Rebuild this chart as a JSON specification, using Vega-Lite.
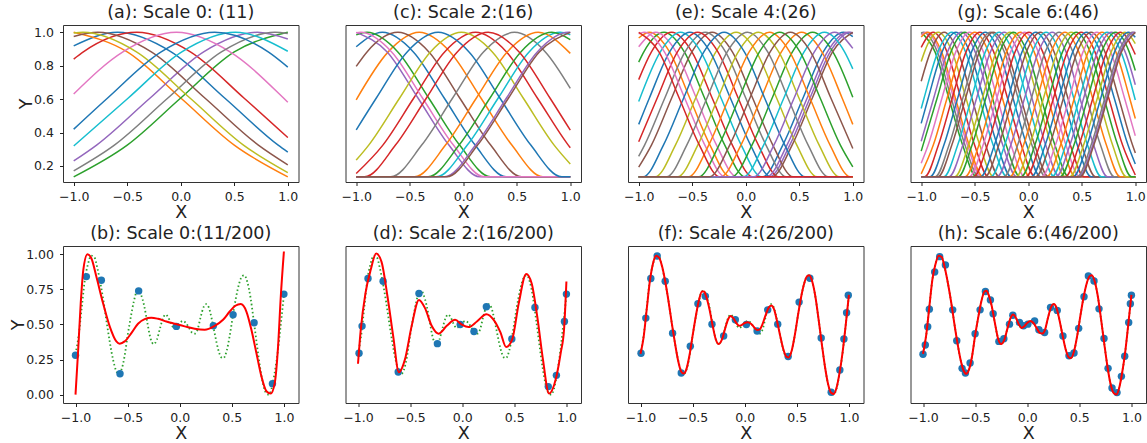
{
"$schema": "https://vega.github.io/schema/vega-lite/v6.json",
"background": "white",
"padding": {"left": 9, "top": 3, "right": 0, "bottom": 0},
"columns": 4,
"spacing": {"row": 64, "column": 46.5},
"bounds": "flush",
"config": {
 "font": "DejaVu Sans",
 "view": {"stroke": "#333333", "strokeWidth": 1},
 "title": {"fontSize": 17.5, "fontWeight": "normal", "color": "#222222", "anchor": "middle", "offset": 4, "font": "DejaVu Sans"},
 "axis": {"labelFont": "DejaVu Sans", "labelFontSize": 12.5, "labelColor": "#222222", "titleFont": "DejaVu Sans", "titleFontSize": 17.5, "titleFontWeight": "normal", "titleColor": "#222222", "tickColor": "#222222", "tickSize": 3.5, "tickWidth": 1, "domain": false, "grid": false, "labelFlush": false, "labelOverlap": false},
 "axisX": {"labelPadding": 5, "titlePadding": 0.5},
 "axisY": {"labelPadding": 6, "titlePadding": -2}
},
"datasets": {
"a": [
{"k":0,"x":-1,"y":0.919},{"k":0,"x":-0.59,"y":1},{"k":0,"x":-0.09,"y":0.883},{"k":0,"x":0.41,"y":0.607},{"k":0,"x":0.91,"y":0.325},{"k":0,"x":1,"y":0.283},
{"k":1,"x":-1,"y":1},{"k":1,"x":-0.5,"y":0.883},{"k":1,"x":0,"y":0.607},{"k":1,"x":0.5,"y":0.325},{"k":1,"x":1,"y":0.135},
{"k":2,"x":-1,"y":0.135},{"k":2,"x":-0.5,"y":0.325},{"k":2,"x":0,"y":0.607},{"k":2,"x":0.5,"y":0.883},{"k":2,"x":1,"y":1},
{"k":3,"x":-1,"y":0.84},{"k":3,"x":-0.91,"y":0.883},{"k":3,"x":-0.41,"y":1},{"k":3,"x":0.09,"y":0.883},{"k":3,"x":0.59,"y":0.607},{"k":3,"x":1,"y":0.37},
{"k":4,"x":-1,"y":0.23},{"k":4,"x":-0.786,"y":0.325},{"k":4,"x":-0.286,"y":0.607},{"k":4,"x":0.214,"y":0.883},{"k":4,"x":0.714,"y":1},{"k":4,"x":1,"y":0.96},
{"k":5,"x":-1,"y":0.975},{"k":5,"x":-0.775,"y":1},{"k":5,"x":-0.275,"y":0.883},{"k":5,"x":0.225,"y":0.607},{"k":5,"x":0.725,"y":0.325},{"k":5,"x":1,"y":0.207},
{"k":6,"x":-1,"y":0.631},{"k":6,"x":-0.54,"y":0.883},{"k":6,"x":-0.04,"y":1},{"k":6,"x":0.46,"y":0.883},{"k":6,"x":0.96,"y":0.607},{"k":6,"x":1,"y":0.582},
{"k":7,"x":-1,"y":0.171},{"k":7,"x":-0.62,"y":0.325},{"k":7,"x":-0.12,"y":0.607},{"k":7,"x":0.38,"y":0.883},{"k":7,"x":0.88,"y":1},{"k":7,"x":1,"y":0.993},
{"k":8,"x":-1,"y":0.996},{"k":8,"x":-0.914,"y":1},{"k":8,"x":-0.414,"y":0.883},{"k":8,"x":0.086,"y":0.607},{"k":8,"x":0.586,"y":0.325},{"k":8,"x":1,"y":0.16},
{"k":9,"x":-1,"y":0.32},{"k":9,"x":-0.49,"y":0.607},{"k":9,"x":0.01,"y":0.883},{"k":9,"x":0.51,"y":1},{"k":9,"x":1,"y":0.887},
{"k":10,"x":-1,"y":0.42},{"k":10,"x":-0.683,"y":0.607},{"k":10,"x":-0.183,"y":0.883},{"k":10,"x":0.317,"y":1},{"k":10,"x":0.817,"y":0.883},{"k":10,"x":1,"y":0.792}
],
"c": [
{"k":0,"x":-1,"y":0.914},{"k":0,"x":-0.755,"y":1},{"k":0,"x":-0.466,"y":0.883},{"k":0,"x":-0.178,"y":0.607},{"k":0,"x":0.111,"y":0.325},{"k":0,"x":0.4,"y":0.135},{"k":0,"x":1,"y":0.135},
{"k":1,"x":-1,"y":0.596},{"k":1,"x":-0.701,"y":0.883},{"k":1,"x":-0.412,"y":1},{"k":1,"x":-0.123,"y":0.883},{"k":1,"x":0.165,"y":0.607},{"k":1,"x":0.454,"y":0.325},{"k":1,"x":0.743,"y":0.135},{"k":1,"x":1,"y":0.135},
{"k":2,"x":-1,"y":0.985},{"k":2,"x":-0.9,"y":1},{"k":2,"x":-0.611,"y":0.883},{"k":2,"x":-0.323,"y":0.607},{"k":2,"x":-0.034,"y":0.325},{"k":2,"x":0.255,"y":0.135},{"k":2,"x":1,"y":0.135},
{"k":3,"x":-1,"y":0.155},{"k":3,"x":-0.751,"y":0.325},{"k":3,"x":-0.462,"y":0.607},{"k":3,"x":-0.174,"y":0.883},{"k":3,"x":0.115,"y":1},{"k":3,"x":0.404,"y":0.883},{"k":3,"x":0.692,"y":0.607},{"k":3,"x":0.981,"y":0.325},{"k":3,"x":1,"y":0.309},
{"k":4,"x":-1,"y":1},{"k":4,"x":-0.711,"y":0.883},{"k":4,"x":-0.423,"y":0.607},{"k":4,"x":-0.134,"y":0.325},{"k":4,"x":0.155,"y":0.135},{"k":4,"x":1,"y":0.135},
{"k":5,"x":-1,"y":0.796},{"k":5,"x":-0.899,"y":0.883},{"k":5,"x":-0.61,"y":1},{"k":5,"x":-0.321,"y":0.883},{"k":5,"x":-0.033,"y":0.607},{"k":5,"x":0.256,"y":0.325},{"k":5,"x":0.545,"y":0.135},{"k":5,"x":1,"y":0.135},
{"k":6,"x":-1,"y":0.997},{"k":6,"x":-0.958,"y":1},{"k":6,"x":-0.669,"y":0.883},{"k":6,"x":-0.381,"y":0.607},{"k":6,"x":-0.092,"y":0.325},{"k":6,"x":0.197,"y":0.135},{"k":6,"x":1,"y":0.135},
{"k":7,"x":-1,"y":0.135},{"k":7,"x":-0.677,"y":0.135},{"k":7,"x":-0.388,"y":0.325},{"k":7,"x":-0.099,"y":0.607},{"k":7,"x":0.189,"y":0.883},{"k":7,"x":0.478,"y":1},{"k":7,"x":0.767,"y":0.883},{"k":7,"x":1,"y":0.665},
{"k":8,"x":-1,"y":0.235},{"k":8,"x":-0.883,"y":0.325},{"k":8,"x":-0.594,"y":0.607},{"k":8,"x":-0.306,"y":0.883},{"k":8,"x":-0.017,"y":1},{"k":8,"x":0.272,"y":0.883},{"k":8,"x":0.56,"y":0.607},{"k":8,"x":0.849,"y":0.325},{"k":8,"x":1,"y":0.212},
{"k":9,"x":-1,"y":0.135},{"k":9,"x":-0.251,"y":0.135},{"k":9,"x":0.038,"y":0.325},{"k":9,"x":0.327,"y":0.607},{"k":9,"x":0.615,"y":0.883},{"k":9,"x":0.904,"y":1},{"k":9,"x":1,"y":0.986},
{"k":10,"x":-1,"y":0.416},{"k":10,"x":-0.812,"y":0.607},{"k":10,"x":-0.524,"y":0.883},{"k":10,"x":-0.235,"y":1},{"k":10,"x":0.054,"y":0.883},{"k":10,"x":0.342,"y":0.607},{"k":10,"x":0.631,"y":0.325},{"k":10,"x":0.92,"y":0.135},{"k":10,"x":1,"y":0.135},
{"k":11,"x":-1,"y":0.135},{"k":11,"x":-0.455,"y":0.135},{"k":11,"x":-0.166,"y":0.325},{"k":11,"x":0.123,"y":0.607},{"k":11,"x":0.411,"y":0.883},{"k":11,"x":0.7,"y":1},{"k":11,"x":1,"y":0.874},
{"k":12,"x":-1,"y":0.135},{"k":12,"x":-0.328,"y":0.135},{"k":12,"x":-0.039,"y":0.325},{"k":12,"x":0.25,"y":0.607},{"k":12,"x":0.538,"y":0.883},{"k":12,"x":0.827,"y":1},{"k":12,"x":1,"y":0.956},
{"k":13,"x":-1,"y":0.135},{"k":13,"x":-0.922,"y":0.135},{"k":13,"x":-0.633,"y":0.325},{"k":13,"x":-0.344,"y":0.607},{"k":13,"x":-0.056,"y":0.883},{"k":13,"x":0.233,"y":1},{"k":13,"x":0.522,"y":0.883},{"k":13,"x":0.81,"y":0.607},{"k":13,"x":1,"y":0.414},
{"k":14,"x":-1,"y":0.135},{"k":14,"x":-0.174,"y":0.135},{"k":14,"x":0.115,"y":0.325},{"k":14,"x":0.404,"y":0.607},{"k":14,"x":0.692,"y":0.883},{"k":14,"x":0.981,"y":1},{"k":14,"x":1,"y":1},
{"k":15,"x":-1,"y":0.135},{"k":15,"x":-0.155,"y":0.135},{"k":15,"x":0.134,"y":0.325},{"k":15,"x":0.423,"y":0.607},{"k":15,"x":0.711,"y":0.883},{"k":15,"x":1,"y":1}
],
"e": [
{"k":0,"x":-1,"y":0.135},{"k":0,"x":0.157,"y":0.135},{"k":0,"x":0.346,"y":0.325},{"k":0,"x":0.535,"y":0.607},{"k":0,"x":0.724,"y":0.883},{"k":0,"x":0.913,"y":1},{"k":0,"x":1,"y":0.974},
{"k":1,"x":-1,"y":0.966},{"k":1,"x":-0.901,"y":1},{"k":1,"x":-0.712,"y":0.883},{"k":1,"x":-0.523,"y":0.607},{"k":1,"x":-0.334,"y":0.325},{"k":1,"x":-0.145,"y":0.135},{"k":1,"x":1,"y":0.135},
{"k":2,"x":-1,"y":0.822},{"k":2,"x":-0.952,"y":0.883},{"k":2,"x":-0.763,"y":1},{"k":2,"x":-0.574,"y":0.883},{"k":2,"x":-0.385,"y":0.607},{"k":2,"x":-0.196,"y":0.325},{"k":2,"x":-0.007,"y":0.135},{"k":2,"x":1,"y":0.135},
{"k":3,"x":-1,"y":0.717},{"k":3,"x":-0.881,"y":0.883},{"k":3,"x":-0.692,"y":1},{"k":3,"x":-0.503,"y":0.883},{"k":3,"x":-0.314,"y":0.607},{"k":3,"x":-0.125,"y":0.325},{"k":3,"x":0.064,"y":0.135},{"k":3,"x":1,"y":0.135},
{"k":4,"x":-1,"y":0.135},{"k":4,"x":0.222,"y":0.135},{"k":4,"x":0.411,"y":0.325},{"k":4,"x":0.6,"y":0.607},{"k":4,"x":0.789,"y":0.883},{"k":4,"x":0.978,"y":1},{"k":4,"x":1,"y":0.998},
{"k":5,"x":-1,"y":0.193},{"k":5,"x":-0.881,"y":0.325},{"k":5,"x":-0.692,"y":0.607},{"k":5,"x":-0.503,"y":0.883},{"k":5,"x":-0.314,"y":1},{"k":5,"x":-0.125,"y":0.883},{"k":5,"x":0.064,"y":0.607},{"k":5,"x":0.253,"y":0.325},{"k":5,"x":0.442,"y":0.135},{"k":5,"x":1,"y":0.135},
{"k":6,"x":-1,"y":0.914},{"k":6,"x":-0.84,"y":1},{"k":6,"x":-0.651,"y":0.883},{"k":6,"x":-0.462,"y":0.607},{"k":6,"x":-0.273,"y":0.325},{"k":6,"x":-0.084,"y":0.135},{"k":6,"x":1,"y":0.135},
{"k":7,"x":-1,"y":0.258},{"k":7,"x":-0.945,"y":0.325},{"k":7,"x":-0.756,"y":0.607},{"k":7,"x":-0.567,"y":0.883},{"k":7,"x":-0.378,"y":1},{"k":7,"x":-0.189,"y":0.883},{"k":7,"x":0,"y":0.607},{"k":7,"x":0.189,"y":0.325},{"k":7,"x":0.378,"y":0.135},{"k":7,"x":1,"y":0.135},
{"k":8,"x":-1,"y":0.135},{"k":8,"x":-0.846,"y":0.135},{"k":8,"x":-0.657,"y":0.325},{"k":8,"x":-0.468,"y":0.607},{"k":8,"x":-0.279,"y":0.883},{"k":8,"x":-0.09,"y":1},{"k":8,"x":0.099,"y":0.883},{"k":8,"x":0.288,"y":0.607},{"k":8,"x":0.477,"y":0.325},{"k":8,"x":0.666,"y":0.135},{"k":8,"x":1,"y":0.135},
{"k":9,"x":-1,"y":0.586},{"k":9,"x":-0.798,"y":0.883},{"k":9,"x":-0.609,"y":1},{"k":9,"x":-0.42,"y":0.883},{"k":9,"x":-0.231,"y":0.607},{"k":9,"x":-0.042,"y":0.325},{"k":9,"x":0.147,"y":0.135},{"k":9,"x":1,"y":0.135},
{"k":10,"x":-1,"y":0.449},{"k":10,"x":-0.9,"y":0.607},{"k":10,"x":-0.711,"y":0.883},{"k":10,"x":-0.522,"y":1},{"k":10,"x":-0.333,"y":0.883},{"k":10,"x":-0.144,"y":0.607},{"k":10,"x":0.045,"y":0.325},{"k":10,"x":0.234,"y":0.135},{"k":10,"x":1,"y":0.135},
{"k":11,"x":-1,"y":0.135},{"k":11,"x":-0.234,"y":0.135},{"k":11,"x":-0.045,"y":0.325},{"k":11,"x":0.144,"y":0.607},{"k":11,"x":0.333,"y":0.883},{"k":11,"x":0.522,"y":1},{"k":11,"x":0.711,"y":0.883},{"k":11,"x":0.9,"y":0.607},{"k":11,"x":1,"y":0.449},
{"k":12,"x":-1,"y":0.135},{"k":12,"x":-0.131,"y":0.135},{"k":12,"x":0.058,"y":0.325},{"k":12,"x":0.247,"y":0.607},{"k":12,"x":0.436,"y":0.883},{"k":12,"x":0.625,"y":1},{"k":12,"x":0.814,"y":0.883},{"k":12,"x":1,"y":0.611},
{"k":13,"x":-1,"y":0.345},{"k":13,"x":-0.827,"y":0.607},{"k":13,"x":-0.638,"y":0.883},{"k":13,"x":-0.449,"y":1},{"k":13,"x":-0.26,"y":0.883},{"k":13,"x":-0.071,"y":0.607},{"k":13,"x":0.118,"y":0.325},{"k":13,"x":0.307,"y":0.135},{"k":13,"x":1,"y":0.135},
{"k":14,"x":-1,"y":0.135},{"k":14,"x":0.196,"y":0.135},{"k":14,"x":0.385,"y":0.325},{"k":14,"x":0.574,"y":0.607},{"k":14,"x":0.763,"y":0.883},{"k":14,"x":0.952,"y":1},{"k":14,"x":1,"y":0.992},
{"k":15,"x":-1,"y":0.135},{"k":15,"x":0.244,"y":0.135},{"k":15,"x":0.433,"y":0.325},{"k":15,"x":0.622,"y":0.607},{"k":15,"x":0.811,"y":0.883},{"k":15,"x":1,"y":1},
{"k":16,"x":-1,"y":0.991},{"k":16,"x":-0.949,"y":1},{"k":16,"x":-0.76,"y":0.883},{"k":16,"x":-0.571,"y":0.607},{"k":16,"x":-0.382,"y":0.325},{"k":16,"x":-0.193,"y":0.135},{"k":16,"x":1,"y":0.135},
{"k":17,"x":-1,"y":0.135},{"k":17,"x":-0.74,"y":0.135},{"k":17,"x":-0.551,"y":0.325},{"k":17,"x":-0.362,"y":0.607},{"k":17,"x":-0.173,"y":0.883},{"k":17,"x":0.016,"y":1},{"k":17,"x":0.205,"y":0.883},{"k":17,"x":0.394,"y":0.607},{"k":17,"x":0.583,"y":0.325},{"k":17,"x":0.772,"y":0.135},{"k":17,"x":1,"y":0.135},
{"k":18,"x":-1,"y":0.135},{"k":18,"x":-0.637,"y":0.135},{"k":18,"x":-0.448,"y":0.325},{"k":18,"x":-0.259,"y":0.607},{"k":18,"x":-0.07,"y":0.883},{"k":18,"x":0.119,"y":1},{"k":18,"x":0.308,"y":0.883},{"k":18,"x":0.497,"y":0.607},{"k":18,"x":0.686,"y":0.325},{"k":18,"x":0.875,"y":0.135},{"k":18,"x":1,"y":0.135},
{"k":19,"x":-1,"y":0.135},{"k":19,"x":-0.022,"y":0.135},{"k":19,"x":0.167,"y":0.325},{"k":19,"x":0.356,"y":0.607},{"k":19,"x":0.545,"y":0.883},{"k":19,"x":0.734,"y":1},{"k":19,"x":0.923,"y":0.883},{"k":19,"x":1,"y":0.781},
{"k":20,"x":-1,"y":0.135},{"k":20,"x":-0.958,"y":0.135},{"k":20,"x":-0.769,"y":0.325},{"k":20,"x":-0.58,"y":0.607},{"k":20,"x":-0.391,"y":0.883},{"k":20,"x":-0.202,"y":1},{"k":20,"x":-0.013,"y":0.883},{"k":20,"x":0.176,"y":0.607},{"k":20,"x":0.365,"y":0.325},{"k":20,"x":0.554,"y":0.135},{"k":20,"x":1,"y":0.135},
{"k":21,"x":-1,"y":0.135},{"k":21,"x":-0.535,"y":0.135},{"k":21,"x":-0.346,"y":0.325},{"k":21,"x":-0.157,"y":0.607},{"k":21,"x":0.032,"y":0.883},{"k":21,"x":0.221,"y":1},{"k":21,"x":0.41,"y":0.883},{"k":21,"x":0.599,"y":0.607},{"k":21,"x":0.788,"y":0.325},{"k":21,"x":0.977,"y":0.135},{"k":21,"x":1,"y":0.135},
{"k":22,"x":-1,"y":0.135},{"k":22,"x":-0.439,"y":0.135},{"k":22,"x":-0.25,"y":0.325},{"k":22,"x":-0.061,"y":0.607},{"k":22,"x":0.128,"y":0.883},{"k":22,"x":0.317,"y":1},{"k":22,"x":0.506,"y":0.883},{"k":22,"x":0.695,"y":0.607},{"k":22,"x":0.884,"y":0.325},{"k":22,"x":1,"y":0.195},
{"k":23,"x":-1,"y":1},{"k":23,"x":-0.811,"y":0.883},{"k":23,"x":-0.622,"y":0.607},{"k":23,"x":-0.433,"y":0.325},{"k":23,"x":-0.244,"y":0.135},{"k":23,"x":1,"y":0.135},
{"k":24,"x":-1,"y":0.135},{"k":24,"x":0.074,"y":0.135},{"k":24,"x":0.263,"y":0.325},{"k":24,"x":0.452,"y":0.607},{"k":24,"x":0.641,"y":0.883},{"k":24,"x":0.83,"y":1},{"k":24,"x":1,"y":0.904},
{"k":25,"x":-1,"y":0.135},{"k":25,"x":-0.339,"y":0.135},{"k":25,"x":-0.15,"y":0.325},{"k":25,"x":0.039,"y":0.607},{"k":25,"x":0.228,"y":0.883},{"k":25,"x":0.417,"y":1},{"k":25,"x":0.606,"y":0.883},{"k":25,"x":0.795,"y":0.607},{"k":25,"x":1,"y":0.305}
],
"g": [
{"k":2,"x":-1,"y":1},{"k":2,"x":-0.871,"y":0.883},{"k":2,"x":-0.742,"y":0.607},{"k":2,"x":-0.613,"y":0.325},{"k":2,"x":-0.484,"y":0.135},{"k":2,"x":1,"y":0.135},
{"k":7,"x":-1,"y":0.996},{"k":7,"x":-0.978,"y":1},{"k":7,"x":-0.849,"y":0.883},{"k":7,"x":-0.72,"y":0.607},{"k":7,"x":-0.591,"y":0.325},{"k":7,"x":-0.462,"y":0.135},{"k":7,"x":1,"y":0.135},
{"k":6,"x":-1,"y":0.985},{"k":6,"x":-0.955,"y":1},{"k":6,"x":-0.826,"y":0.883},{"k":6,"x":-0.697,"y":0.607},{"k":6,"x":-0.568,"y":0.325},{"k":6,"x":-0.439,"y":0.135},{"k":6,"x":1,"y":0.135},
{"k":1,"x":-1,"y":0.972},{"k":1,"x":-0.939,"y":1},{"k":1,"x":-0.81,"y":0.883},{"k":1,"x":-0.681,"y":0.607},{"k":1,"x":-0.552,"y":0.325},{"k":1,"x":-0.423,"y":0.135},{"k":1,"x":1,"y":0.135},
{"k":3,"x":-1,"y":0.91},{"k":3,"x":-0.888,"y":1},{"k":3,"x":-0.759,"y":0.883},{"k":3,"x":-0.63,"y":0.607},{"k":3,"x":-0.501,"y":0.325},{"k":3,"x":-0.372,"y":0.135},{"k":3,"x":1,"y":0.135},
{"k":8,"x":-1,"y":0.825},{"k":8,"x":-0.969,"y":0.883},{"k":8,"x":-0.84,"y":1},{"k":8,"x":-0.711,"y":0.883},{"k":8,"x":-0.582,"y":0.607},{"k":8,"x":-0.453,"y":0.325},{"k":8,"x":-0.324,"y":0.135},{"k":8,"x":1,"y":0.135},
{"k":5,"x":-1,"y":0.707},{"k":5,"x":-0.914,"y":0.883},{"k":5,"x":-0.785,"y":1},{"k":5,"x":-0.656,"y":0.883},{"k":5,"x":-0.527,"y":0.607},{"k":5,"x":-0.398,"y":0.325},{"k":5,"x":-0.269,"y":0.135},{"k":5,"x":1,"y":0.135},
{"k":9,"x":-1,"y":0.544},{"k":9,"x":-0.973,"y":0.607},{"k":9,"x":-0.844,"y":0.883},{"k":9,"x":-0.715,"y":1},{"k":9,"x":-0.586,"y":0.883},{"k":9,"x":-0.457,"y":0.607},{"k":9,"x":-0.328,"y":0.325},{"k":9,"x":-0.199,"y":0.135},{"k":9,"x":1,"y":0.135},
{"k":0,"x":-1,"y":0.455},{"k":0,"x":-0.934,"y":0.607},{"k":0,"x":-0.805,"y":0.883},{"k":0,"x":-0.676,"y":1},{"k":0,"x":-0.547,"y":0.883},{"k":0,"x":-0.418,"y":0.607},{"k":0,"x":-0.289,"y":0.325},{"k":0,"x":-0.16,"y":0.135},{"k":0,"x":1,"y":0.135},
{"k":4,"x":-1,"y":0.348},{"k":4,"x":-0.883,"y":0.607},{"k":4,"x":-0.754,"y":0.883},{"k":4,"x":-0.625,"y":1},{"k":4,"x":-0.496,"y":0.883},{"k":4,"x":-0.367,"y":0.607},{"k":4,"x":-0.238,"y":0.325},{"k":4,"x":-0.109,"y":0.135},{"k":4,"x":1,"y":0.135},
{"k":12,"x":-1,"y":0.289},{"k":12,"x":-0.851,"y":0.607},{"k":12,"x":-0.722,"y":0.883},{"k":12,"x":-0.593,"y":1},{"k":12,"x":-0.464,"y":0.883},{"k":12,"x":-0.335,"y":0.607},{"k":12,"x":-0.206,"y":0.325},{"k":12,"x":-0.077,"y":0.135},{"k":12,"x":1,"y":0.135},
{"k":16,"x":-1,"y":0.216},{"k":16,"x":-0.935,"y":0.325},{"k":16,"x":-0.806,"y":0.607},{"k":16,"x":-0.677,"y":0.883},{"k":16,"x":-0.548,"y":1},{"k":16,"x":-0.419,"y":0.883},{"k":16,"x":-0.29,"y":0.607},{"k":16,"x":-0.161,"y":0.325},{"k":16,"x":-0.032,"y":0.135},{"k":16,"x":1,"y":0.135},
{"k":11,"x":-1,"y":0.153},{"k":11,"x":-0.887,"y":0.325},{"k":11,"x":-0.758,"y":0.607},{"k":11,"x":-0.629,"y":0.883},{"k":11,"x":-0.5,"y":1},{"k":11,"x":-0.371,"y":0.883},{"k":11,"x":-0.242,"y":0.607},{"k":11,"x":-0.113,"y":0.325},{"k":11,"x":0.016,"y":0.135},{"k":11,"x":1,"y":0.135},
{"k":13,"x":-1,"y":0.135},{"k":13,"x":-0.968,"y":0.135},{"k":13,"x":-0.839,"y":0.325},{"k":13,"x":-0.71,"y":0.607},{"k":13,"x":-0.581,"y":0.883},{"k":13,"x":-0.452,"y":1},{"k":13,"x":-0.323,"y":0.883},{"k":13,"x":-0.194,"y":0.607},{"k":13,"x":-0.065,"y":0.325},{"k":13,"x":0.064,"y":0.135},{"k":13,"x":1,"y":0.135},
{"k":10,"x":-1,"y":0.135},{"k":10,"x":-0.917,"y":0.135},{"k":10,"x":-0.788,"y":0.325},{"k":10,"x":-0.659,"y":0.607},{"k":10,"x":-0.53,"y":0.883},{"k":10,"x":-0.401,"y":1},{"k":10,"x":-0.272,"y":0.883},{"k":10,"x":-0.143,"y":0.607},{"k":10,"x":-0.014,"y":0.325},{"k":10,"x":0.115,"y":0.135},{"k":10,"x":1,"y":0.135},
{"k":17,"x":-1,"y":0.135},{"k":17,"x":-0.869,"y":0.135},{"k":17,"x":-0.74,"y":0.325},{"k":17,"x":-0.611,"y":0.607},{"k":17,"x":-0.482,"y":0.883},{"k":17,"x":-0.353,"y":1},{"k":17,"x":-0.224,"y":0.883},{"k":17,"x":-0.095,"y":0.607},{"k":17,"x":0.034,"y":0.325},{"k":17,"x":0.163,"y":0.135},{"k":17,"x":1,"y":0.135},
{"k":15,"x":-1,"y":0.135},{"k":15,"x":-0.843,"y":0.135},{"k":15,"x":-0.714,"y":0.325},{"k":15,"x":-0.585,"y":0.607},{"k":15,"x":-0.456,"y":0.883},{"k":15,"x":-0.327,"y":1},{"k":15,"x":-0.198,"y":0.883},{"k":15,"x":-0.069,"y":0.607},{"k":15,"x":0.06,"y":0.325},{"k":15,"x":0.189,"y":0.135},{"k":15,"x":1,"y":0.135},
{"k":19,"x":-1,"y":0.135},{"k":19,"x":-0.788,"y":0.135},{"k":19,"x":-0.659,"y":0.325},{"k":19,"x":-0.53,"y":0.607},{"k":19,"x":-0.401,"y":0.883},{"k":19,"x":-0.272,"y":1},{"k":19,"x":-0.143,"y":0.883},{"k":19,"x":-0.014,"y":0.607},{"k":19,"x":0.115,"y":0.325},{"k":19,"x":0.244,"y":0.135},{"k":19,"x":1,"y":0.135},
{"k":14,"x":-1,"y":0.135},{"k":14,"x":-0.74,"y":0.135},{"k":14,"x":-0.611,"y":0.325},{"k":14,"x":-0.482,"y":0.607},{"k":14,"x":-0.353,"y":0.883},{"k":14,"x":-0.224,"y":1},{"k":14,"x":-0.095,"y":0.883},{"k":14,"x":0.034,"y":0.607},{"k":14,"x":0.163,"y":0.325},{"k":14,"x":0.292,"y":0.135},{"k":14,"x":1,"y":0.135},
{"k":18,"x":-1,"y":0.135},{"k":18,"x":-0.686,"y":0.135},{"k":18,"x":-0.557,"y":0.325},{"k":18,"x":-0.428,"y":0.607},{"k":18,"x":-0.299,"y":0.883},{"k":18,"x":-0.17,"y":1},{"k":18,"x":-0.041,"y":0.883},{"k":18,"x":0.088,"y":0.607},{"k":18,"x":0.217,"y":0.325},{"k":18,"x":0.346,"y":0.135},{"k":18,"x":1,"y":0.135},
{"k":22,"x":-1,"y":0.135},{"k":22,"x":-0.654,"y":0.135},{"k":22,"x":-0.525,"y":0.325},{"k":22,"x":-0.396,"y":0.607},{"k":22,"x":-0.267,"y":0.883},{"k":22,"x":-0.138,"y":1},{"k":22,"x":-0.009,"y":0.883},{"k":22,"x":0.12,"y":0.607},{"k":22,"x":0.249,"y":0.325},{"k":22,"x":0.378,"y":0.135},{"k":22,"x":1,"y":0.135},
{"k":21,"x":-1,"y":0.135},{"k":21,"x":-0.59,"y":0.135},{"k":21,"x":-0.461,"y":0.325},{"k":21,"x":-0.332,"y":0.607},{"k":21,"x":-0.203,"y":0.883},{"k":21,"x":-0.074,"y":1},{"k":21,"x":0.055,"y":0.883},{"k":21,"x":0.184,"y":0.607},{"k":21,"x":0.313,"y":0.325},{"k":21,"x":0.442,"y":0.135},{"k":21,"x":1,"y":0.135},
{"k":26,"x":-1,"y":0.135},{"k":26,"x":-0.551,"y":0.135},{"k":26,"x":-0.422,"y":0.325},{"k":26,"x":-0.293,"y":0.607},{"k":26,"x":-0.164,"y":0.883},{"k":26,"x":-0.035,"y":1},{"k":26,"x":0.094,"y":0.883},{"k":26,"x":0.223,"y":0.607},{"k":26,"x":0.352,"y":0.325},{"k":26,"x":0.481,"y":0.135},{"k":26,"x":1,"y":0.135},
{"k":23,"x":-1,"y":0.135},{"k":23,"x":-0.51,"y":0.135},{"k":23,"x":-0.381,"y":0.325},{"k":23,"x":-0.252,"y":0.607},{"k":23,"x":-0.123,"y":0.883},{"k":23,"x":0.006,"y":1},{"k":23,"x":0.135,"y":0.883},{"k":23,"x":0.264,"y":0.607},{"k":23,"x":0.393,"y":0.325},{"k":23,"x":0.522,"y":0.135},{"k":23,"x":1,"y":0.135},
{"k":20,"x":-1,"y":0.135},{"k":20,"x":-0.445,"y":0.135},{"k":20,"x":-0.316,"y":0.325},{"k":20,"x":-0.187,"y":0.607},{"k":20,"x":-0.058,"y":0.883},{"k":20,"x":0.071,"y":1},{"k":20,"x":0.2,"y":0.883},{"k":20,"x":0.329,"y":0.607},{"k":20,"x":0.458,"y":0.325},{"k":20,"x":0.587,"y":0.135},{"k":20,"x":1,"y":0.135},
{"k":25,"x":-1,"y":0.135},{"k":25,"x":-0.404,"y":0.135},{"k":25,"x":-0.275,"y":0.325},{"k":25,"x":-0.146,"y":0.607},{"k":25,"x":-0.017,"y":0.883},{"k":25,"x":0.112,"y":1},{"k":25,"x":0.241,"y":0.883},{"k":25,"x":0.37,"y":0.607},{"k":25,"x":0.499,"y":0.325},{"k":25,"x":0.628,"y":0.135},{"k":25,"x":1,"y":0.135},
{"k":29,"x":-1,"y":0.135},{"k":29,"x":-0.349,"y":0.135},{"k":29,"x":-0.22,"y":0.325},{"k":29,"x":-0.091,"y":0.607},{"k":29,"x":0.038,"y":0.883},{"k":29,"x":0.167,"y":1},{"k":29,"x":0.296,"y":0.883},{"k":29,"x":0.425,"y":0.607},{"k":29,"x":0.554,"y":0.325},{"k":29,"x":0.683,"y":0.135},{"k":29,"x":1,"y":0.135},
{"k":24,"x":-1,"y":0.135},{"k":24,"x":-0.292,"y":0.135},{"k":24,"x":-0.163,"y":0.325},{"k":24,"x":-0.034,"y":0.607},{"k":24,"x":0.095,"y":0.883},{"k":24,"x":0.224,"y":1},{"k":24,"x":0.353,"y":0.883},{"k":24,"x":0.482,"y":0.607},{"k":24,"x":0.611,"y":0.325},{"k":24,"x":0.74,"y":0.135},{"k":24,"x":1,"y":0.135},
{"k":27,"x":-1,"y":0.135},{"k":27,"x":-0.228,"y":0.135},{"k":27,"x":-0.099,"y":0.325},{"k":27,"x":0.03,"y":0.607},{"k":27,"x":0.159,"y":0.883},{"k":27,"x":0.288,"y":1},{"k":27,"x":0.417,"y":0.883},{"k":27,"x":0.546,"y":0.607},{"k":27,"x":0.675,"y":0.325},{"k":27,"x":0.804,"y":0.135},{"k":27,"x":1,"y":0.135},
{"k":31,"x":-1,"y":0.135},{"k":31,"x":-0.173,"y":0.135},{"k":31,"x":-0.044,"y":0.325},{"k":31,"x":0.085,"y":0.607},{"k":31,"x":0.214,"y":0.883},{"k":31,"x":0.343,"y":1},{"k":31,"x":0.472,"y":0.883},{"k":31,"x":0.601,"y":0.607},{"k":31,"x":0.73,"y":0.325},{"k":31,"x":0.859,"y":0.135},{"k":31,"x":1,"y":0.135},
{"k":28,"x":-1,"y":0.135},{"k":28,"x":-0.115,"y":0.135},{"k":28,"x":0.014,"y":0.325},{"k":28,"x":0.143,"y":0.607},{"k":28,"x":0.272,"y":0.883},{"k":28,"x":0.401,"y":1},{"k":28,"x":0.53,"y":0.883},{"k":28,"x":0.659,"y":0.607},{"k":28,"x":0.788,"y":0.325},{"k":28,"x":0.917,"y":0.135},{"k":28,"x":1,"y":0.135},
{"k":32,"x":-1,"y":0.135},{"k":32,"x":-0.067,"y":0.135},{"k":32,"x":0.062,"y":0.325},{"k":32,"x":0.191,"y":0.607},{"k":32,"x":0.32,"y":0.883},{"k":32,"x":0.449,"y":1},{"k":32,"x":0.578,"y":0.883},{"k":32,"x":0.707,"y":0.607},{"k":32,"x":0.836,"y":0.325},{"k":32,"x":0.965,"y":0.135},{"k":32,"x":1,"y":0.135},
{"k":33,"x":-1,"y":0.135},{"k":33,"x":-0.022,"y":0.135},{"k":33,"x":0.107,"y":0.325},{"k":33,"x":0.236,"y":0.607},{"k":33,"x":0.365,"y":0.883},{"k":33,"x":0.494,"y":1},{"k":33,"x":0.623,"y":0.883},{"k":33,"x":0.752,"y":0.607},{"k":33,"x":0.881,"y":0.325},{"k":33,"x":1,"y":0.146},
{"k":30,"x":-1,"y":0.135},{"k":30,"x":0.029,"y":0.135},{"k":30,"x":0.158,"y":0.325},{"k":30,"x":0.287,"y":0.607},{"k":30,"x":0.416,"y":0.883},{"k":30,"x":0.545,"y":1},{"k":30,"x":0.674,"y":0.883},{"k":30,"x":0.803,"y":0.607},{"k":30,"x":0.932,"y":0.325},{"k":30,"x":1,"y":0.212},
{"k":35,"x":-1,"y":0.135},{"k":35,"x":0.071,"y":0.135},{"k":35,"x":0.2,"y":0.325},{"k":35,"x":0.329,"y":0.607},{"k":35,"x":0.458,"y":0.883},{"k":35,"x":0.587,"y":1},{"k":35,"x":0.716,"y":0.883},{"k":35,"x":0.845,"y":0.607},{"k":35,"x":0.974,"y":0.325},{"k":35,"x":1,"y":0.278},
{"k":36,"x":-1,"y":0.135},{"k":36,"x":0.125,"y":0.135},{"k":36,"x":0.254,"y":0.325},{"k":36,"x":0.383,"y":0.607},{"k":36,"x":0.512,"y":0.883},{"k":36,"x":0.641,"y":1},{"k":36,"x":0.77,"y":0.883},{"k":36,"x":0.899,"y":0.607},{"k":36,"x":1,"y":0.381},
{"k":41,"x":-1,"y":0.135},{"k":41,"x":0.173,"y":0.135},{"k":41,"x":0.302,"y":0.325},{"k":41,"x":0.431,"y":0.607},{"k":41,"x":0.56,"y":0.883},{"k":41,"x":0.689,"y":1},{"k":41,"x":0.818,"y":0.883},{"k":41,"x":0.947,"y":0.607},{"k":41,"x":1,"y":0.484},
{"k":39,"x":-1,"y":0.135},{"k":39,"x":0.221,"y":0.135},{"k":39,"x":0.35,"y":0.325},{"k":39,"x":0.479,"y":0.607},{"k":39,"x":0.608,"y":0.883},{"k":39,"x":0.737,"y":1},{"k":39,"x":0.866,"y":0.883},{"k":39,"x":1,"y":0.595},
{"k":34,"x":-1,"y":0.135},{"k":34,"x":0.26,"y":0.135},{"k":34,"x":0.389,"y":0.325},{"k":34,"x":0.518,"y":0.607},{"k":34,"x":0.647,"y":0.883},{"k":34,"x":0.776,"y":1},{"k":34,"x":0.905,"y":0.883},{"k":34,"x":1,"y":0.686},
{"k":42,"x":-1,"y":0.135},{"k":42,"x":0.298,"y":0.135},{"k":42,"x":0.427,"y":0.325},{"k":42,"x":0.556,"y":0.607},{"k":42,"x":0.685,"y":0.883},{"k":42,"x":0.814,"y":1},{"k":42,"x":0.943,"y":0.883},{"k":42,"x":1,"y":0.772},
{"k":43,"x":-1,"y":0.135},{"k":43,"x":0.346,"y":0.135},{"k":43,"x":0.475,"y":0.325},{"k":43,"x":0.604,"y":0.607},{"k":43,"x":0.733,"y":0.883},{"k":43,"x":0.862,"y":1},{"k":43,"x":1,"y":0.867},
{"k":38,"x":-1,"y":0.135},{"k":38,"x":0.388,"y":0.135},{"k":38,"x":0.517,"y":0.325},{"k":38,"x":0.646,"y":0.607},{"k":38,"x":0.775,"y":0.883},{"k":38,"x":0.904,"y":1},{"k":38,"x":1,"y":0.933},
{"k":40,"x":-1,"y":0.135},{"k":40,"x":0.42,"y":0.135},{"k":40,"x":0.549,"y":0.325},{"k":40,"x":0.678,"y":0.607},{"k":40,"x":0.807,"y":0.883},{"k":40,"x":0.936,"y":1},{"k":40,"x":1,"y":0.97},
{"k":37,"x":-1,"y":0.135},{"k":37,"x":0.458,"y":0.135},{"k":37,"x":0.587,"y":0.325},{"k":37,"x":0.716,"y":0.607},{"k":37,"x":0.845,"y":0.883},{"k":37,"x":0.974,"y":1},{"k":37,"x":1,"y":0.995},
{"k":44,"x":-1,"y":0.135},{"k":44,"x":0.474,"y":0.135},{"k":44,"x":0.603,"y":0.325},{"k":44,"x":0.732,"y":0.607},{"k":44,"x":0.861,"y":0.883},{"k":44,"x":0.99,"y":1},{"k":44,"x":1,"y":0.999},
{"k":45,"x":-1,"y":0.135},{"k":45,"x":0.484,"y":0.135},{"k":45,"x":0.613,"y":0.325},{"k":45,"x":0.742,"y":0.607},{"k":45,"x":0.871,"y":0.883},{"k":45,"x":1,"y":1}
],
"truth": [
{"x":-1,"y":0.29},{"x":-0.97,"y":0.42},{"x":-0.94,"y":0.62},{"x":-0.91,"y":0.82},{"x":-0.88,"y":0.93},{"x":-0.85,"y":0.99},{"x":-0.82,"y":0.98},{"x":-0.79,"y":0.9},{"x":-0.76,"y":0.79},{"x":-0.73,"y":0.66},{"x":-0.7,"y":0.51},{"x":-0.67,"y":0.37},{"x":-0.64,"y":0.25},{"x":-0.61,"y":0.17},{"x":-0.585,"y":0.148},{"x":-0.56,"y":0.175},{"x":-0.53,"y":0.27},{"x":-0.5,"y":0.42},{"x":-0.47,"y":0.55},{"x":-0.44,"y":0.665},{"x":-0.41,"y":0.735},{"x":-0.39,"y":0.74},{"x":-0.37,"y":0.71},{"x":-0.34,"y":0.63},{"x":-0.31,"y":0.51},{"x":-0.28,"y":0.4},{"x":-0.25,"y":0.36},{"x":-0.22,"y":0.39},{"x":-0.19,"y":0.47},{"x":-0.16,"y":0.545},{"x":-0.135,"y":0.57},{"x":-0.11,"y":0.55},{"x":-0.08,"y":0.5},{"x":-0.055,"y":0.475},{"x":-0.03,"y":0.485},{"x":0,"y":0.51},{"x":0.03,"y":0.525},{"x":0.06,"y":0.51},{"x":0.09,"y":0.475},{"x":0.12,"y":0.44},{"x":0.145,"y":0.435},{"x":0.17,"y":0.46},{"x":0.2,"y":0.55},{"x":0.23,"y":0.625},{"x":0.255,"y":0.645},{"x":0.28,"y":0.62},{"x":0.31,"y":0.53},{"x":0.34,"y":0.42},{"x":0.37,"y":0.32},{"x":0.4,"y":0.265},{"x":0.42,"y":0.26},{"x":0.45,"y":0.31},{"x":0.48,"y":0.42},{"x":0.51,"y":0.56},{"x":0.54,"y":0.69},{"x":0.57,"y":0.79},{"x":0.6,"y":0.845},{"x":0.62,"y":0.85},{"x":0.65,"y":0.8},{"x":0.68,"y":0.69},{"x":0.71,"y":0.53},{"x":0.74,"y":0.36},{"x":0.77,"y":0.2},{"x":0.8,"y":0.075},{"x":0.83,"y":0.01},{"x":0.855,"y":0},{"x":0.88,"y":0.04},{"x":0.91,"y":0.15},{"x":0.94,"y":0.3},{"x":0.97,"y":0.5},{"x":1,"y":0.71}
],
"rb": [
{"x":-1,"y":0},{"x":-0.976,"y":0.296},{"x":-0.95,"y":0.65},{"x":-0.925,"y":0.889},{"x":-0.886,"y":1},{"x":-0.848,"y":0.972},{"x":-0.8,"y":0.841},{"x":-0.736,"y":0.652},{"x":-0.672,"y":0.486},{"x":-0.608,"y":0.379},{"x":-0.576,"y":0.363},{"x":-0.528,"y":0.379},{"x":-0.464,"y":0.438},{"x":-0.4,"y":0.505},{"x":-0.336,"y":0.538},{"x":-0.272,"y":0.548},{"x":-0.208,"y":0.54},{"x":-0.128,"y":0.521},{"x":-0.048,"y":0.505},{"x":0.048,"y":0.486},{"x":0.144,"y":0.469},{"x":0.24,"y":0.462},{"x":0.336,"y":0.49},{"x":0.416,"y":0.533},{"x":0.48,"y":0.592},{"x":0.534,"y":0.633},{"x":0.586,"y":0.645},{"x":0.64,"y":0.592},{"x":0.688,"y":0.462},{"x":0.736,"y":0.296},{"x":0.784,"y":0.13},{"x":0.832,"y":0.024},{"x":0.874,"y":0.007},{"x":0.912,"y":0.083},{"x":0.944,"y":0.344},{"x":0.97,"y":0.699},{"x":1,"y":1.02}
],
"rd": [
{"x":-1,"y":0.22},{"x":-0.974,"y":0.46},{"x":-0.929,"y":0.72},{"x":-0.878,"y":0.889},{"x":-0.826,"y":1.005},{"x":-0.775,"y":0.948},{"x":-0.717,"y":0.699},{"x":-0.662,"y":0.415},{"x":-0.608,"y":0.159},{"x":-0.55,"y":0.249},{"x":-0.486,"y":0.486},{"x":-0.415,"y":0.675},{"x":-0.357,"y":0.616},{"x":-0.293,"y":0.49},{"x":-0.228,"y":0.434},{"x":-0.148,"y":0.49},{"x":-0.068,"y":0.533},{"x":-0.003,"y":0.498},{"x":0.061,"y":0.481},{"x":0.141,"y":0.521},{"x":0.232,"y":0.573},{"x":0.302,"y":0.533},{"x":0.367,"y":0.443},{"x":0.421,"y":0.339},{"x":0.479,"y":0.391},{"x":0.543,"y":0.652},{"x":0.614,"y":0.86},{"x":0.666,"y":0.794},{"x":0.72,"y":0.557},{"x":0.775,"y":0.249},{"x":0.833,"y":0.007},{"x":0.897,"y":0.107},{"x":0.945,"y":0.296},{"x":0.977,"y":0.462},{"x":1,"y":0.806}
],
"rf": [
{"x":-1,"y":0.29},{"x":-0.97,"y":0.41},{"x":-0.94,"y":0.61},{"x":-0.91,"y":0.81},{"x":-0.88,"y":0.935},{"x":-0.85,"y":0.99},{"x":-0.82,"y":0.975},{"x":-0.79,"y":0.905},{"x":-0.76,"y":0.795},{"x":-0.73,"y":0.66},{"x":-0.7,"y":0.51},{"x":-0.67,"y":0.37},{"x":-0.64,"y":0.245},{"x":-0.61,"y":0.165},{"x":-0.585,"y":0.15},{"x":-0.56,"y":0.18},{"x":-0.53,"y":0.28},{"x":-0.5,"y":0.42},{"x":-0.47,"y":0.555},{"x":-0.44,"y":0.67},{"x":-0.41,"y":0.735},{"x":-0.39,"y":0.735},{"x":-0.37,"y":0.7},{"x":-0.34,"y":0.615},{"x":-0.31,"y":0.5},{"x":-0.28,"y":0.4},{"x":-0.25,"y":0.36},{"x":-0.22,"y":0.39},{"x":-0.19,"y":0.465},{"x":-0.16,"y":0.535},{"x":-0.135,"y":0.56},{"x":-0.11,"y":0.545},{"x":-0.08,"y":0.51},{"x":-0.055,"y":0.49},{"x":-0.03,"y":0.495},{"x":0,"y":0.51},{"x":0.03,"y":0.515},{"x":0.06,"y":0.505},{"x":0.09,"y":0.48},{"x":0.12,"y":0.46},{"x":0.145,"y":0.465},{"x":0.17,"y":0.5},{"x":0.2,"y":0.565},{"x":0.23,"y":0.62},{"x":0.255,"y":0.635},{"x":0.28,"y":0.61},{"x":0.31,"y":0.525},{"x":0.34,"y":0.42},{"x":0.37,"y":0.325},{"x":0.4,"y":0.27},{"x":0.42,"y":0.265},{"x":0.45,"y":0.31},{"x":0.48,"y":0.42},{"x":0.51,"y":0.56},{"x":0.54,"y":0.69},{"x":0.57,"y":0.79},{"x":0.6,"y":0.845},{"x":0.62,"y":0.85},{"x":0.65,"y":0.8},{"x":0.68,"y":0.69},{"x":0.71,"y":0.53},{"x":0.74,"y":0.36},{"x":0.77,"y":0.2},{"x":0.8,"y":0.075},{"x":0.83,"y":0.012},{"x":0.855,"y":0.005},{"x":0.88,"y":0.045},{"x":0.91,"y":0.155},{"x":0.94,"y":0.305},{"x":0.97,"y":0.5},{"x":1,"y":0.71}
],
"pb": [
{"x":-1,"y":0.28},{"x":-0.896,"y":0.841},{"x":-0.752,"y":0.815},{"x":-0.573,"y":0.149},{"x":-0.394,"y":0.739},{"x":-0.032,"y":0.486},{"x":0.323,"y":0.491},{"x":0.512,"y":0.569},{"x":0.714,"y":0.512},{"x":0.89,"y":0.078},{"x":1,"y":0.716}
],
"pd": [
{"x":-0.99,"y":0.294},{"x":-0.961,"y":0.488},{"x":-0.904,"y":0.827},{"x":-0.759,"y":0.808},{"x":-0.614,"y":0.161},{"x":-0.415,"y":0.72},{"x":-0.238,"y":0.363},{"x":-0.019,"y":0.5},{"x":0.113,"y":0.45},{"x":0.232,"y":0.626},{"x":0.476,"y":0.396},{"x":0.698,"y":0.621},{"x":0.826,"y":0.057},{"x":0.904,"y":0.137},{"x":0.981,"y":0.521},{"x":1,"y":0.716}
],
"pf": [
{"x":-0.995,"y":0.294},{"x":-0.949,"y":0.545},{"x":-0.901,"y":0.827},{"x":-0.84,"y":0.988},{"x":-0.763,"y":0.808},{"x":-0.692,"y":0.438},{"x":-0.609,"y":0.154},{"x":-0.522,"y":0.344},{"x":-0.449,"y":0.647},{"x":-0.378,"y":0.701},{"x":-0.314,"y":0.502},{"x":-0.202,"y":0.417},{"x":-0.09,"y":0.533},{"x":0.016,"y":0.5},{"x":0.119,"y":0.453},{"x":0.221,"y":0.604},{"x":0.317,"y":0.502},{"x":0.417,"y":0.272},{"x":0.522,"y":0.659},{"x":0.625,"y":0.829},{"x":0.734,"y":0.403},{"x":0.83,"y":0.017},{"x":0.913,"y":0.175},{"x":0.952,"y":0.396},{"x":0.978,"y":0.583},{"x":0.994,"y":0.708}
],
"ph": [
{"x":-1,"y":0.287},{"x":-0.978,"y":0.353},{"x":-0.955,"y":0.483},{"x":-0.939,"y":0.609},{"x":-0.888,"y":0.874},{"x":-0.84,"y":0.983},{"x":-0.785,"y":0.924},{"x":-0.715,"y":0.604},{"x":-0.676,"y":0.384},{"x":-0.625,"y":0.187},{"x":-0.593,"y":0.154},{"x":-0.548,"y":0.225},{"x":-0.5,"y":0.434},{"x":-0.452,"y":0.604},{"x":-0.401,"y":0.735},{"x":-0.353,"y":0.675},{"x":-0.327,"y":0.576},{"x":-0.272,"y":0.379},{"x":-0.224,"y":0.398},{"x":-0.17,"y":0.502},{"x":-0.138,"y":0.566},{"x":-0.074,"y":0.514},{"x":-0.035,"y":0.491},{"x":0.006,"y":0.502},{"x":0.071,"y":0.524},{"x":0.112,"y":0.462},{"x":0.167,"y":0.443},{"x":0.224,"y":0.621},{"x":0.288,"y":0.6},{"x":0.343,"y":0.417},{"x":0.401,"y":0.277},{"x":0.449,"y":0.296},{"x":0.494,"y":0.472},{"x":0.545,"y":0.697},{"x":0.587,"y":0.846},{"x":0.641,"y":0.81},{"x":0.689,"y":0.611},{"x":0.737,"y":0.4},{"x":0.776,"y":0.187},{"x":0.814,"y":0.047},{"x":0.862,"y":0.014},{"x":0.904,"y":0.13},{"x":0.936,"y":0.273},{"x":0.974,"y":0.514},{"x":0.99,"y":0.647},{"x":1,"y":0.708}
]
},
"concat": [
 {"width":235.5,"height":157,"title":"(a): Scale 0: (11)","data":{"name":"a"},"mark":{"type":"line","interpolate":"monotone","strokeWidth":1.5},
  "encoding":{"x":{"field":"x","type":"quantitative","scale":{"domain":[-1.1,1.1],"nice":false,"zero":false},"axis":{"values":[-1,-0.5,0,0.5,1],"format":".1f","title":"X"}},
   "y":{"field":"y","type":"quantitative","scale":{"domain":[0.104,1.044],"nice":false,"zero":false},"axis":{"values":[0.2,0.4,0.6,0.8,1],"format":".1f","title":"Y"}},
   "color":{"field":"k","type":"nominal","scale":{"domain":[0,1,2,3,4,5,6,7,8,9,10,11,12,13,14,15,16,17,18,19,20,21,22,23,24,25,26,27,28,29,30,31,32,33,34,35,36,37,38,39,40,41,42,43,44,45],"range":["#1f77b4","#ff7f0e","#2ca02c","#d62728","#9467bd","#8c564b","#e377c2","#7f7f7f","#bcbd22","#17becf"]},"legend":null}}},
 {"width":235.5,"height":157,"title":"(c): Scale 2:(16)","data":{"name":"c"},"mark":{"type":"line","interpolate":"monotone","strokeWidth":1.5},
  "encoding":{"x":{"field":"x","type":"quantitative","scale":{"domain":[-1.1,1.1],"nice":false,"zero":false},"axis":{"values":[-1,-0.5,0,0.5,1],"format":".1f","title":"X"}},
   "y":{"field":"y","type":"quantitative","scale":{"domain":[0.104,1.044],"nice":false,"zero":false},"axis":null},
   "color":{"field":"k","type":"nominal","scale":{"domain":[0,1,2,3,4,5,6,7,8,9,10,11,12,13,14,15,16,17,18,19,20,21,22,23,24,25,26,27,28,29,30,31,32,33,34,35,36,37,38,39,40,41,42,43,44,45],"range":["#1f77b4","#ff7f0e","#2ca02c","#d62728","#9467bd","#8c564b","#e377c2","#7f7f7f","#bcbd22","#17becf"]},"legend":null}}},
 {"width":235.5,"height":157,"title":"(e): Scale 4:(26)","data":{"name":"e"},"mark":{"type":"line","interpolate":"monotone","strokeWidth":1.5},
  "encoding":{"x":{"field":"x","type":"quantitative","scale":{"domain":[-1.1,1.1],"nice":false,"zero":false},"axis":{"values":[-1,-0.5,0,0.5,1],"format":".1f","title":"X"}},
   "y":{"field":"y","type":"quantitative","scale":{"domain":[0.104,1.044],"nice":false,"zero":false},"axis":null},
   "color":{"field":"k","type":"nominal","scale":{"domain":[0,1,2,3,4,5,6,7,8,9,10,11,12,13,14,15,16,17,18,19,20,21,22,23,24,25,26,27,28,29,30,31,32,33,34,35,36,37,38,39,40,41,42,43,44,45],"range":["#1f77b4","#ff7f0e","#2ca02c","#d62728","#9467bd","#8c564b","#e377c2","#7f7f7f","#bcbd22","#17becf"]},"legend":null}}},
 {"width":235.5,"height":157,"title":"(g): Scale 6:(46)","data":{"name":"g"},"mark":{"type":"line","interpolate":"monotone","strokeWidth":1.5},
  "encoding":{"x":{"field":"x","type":"quantitative","scale":{"domain":[-1.1,1.1],"nice":false,"zero":false},"axis":{"values":[-1,-0.5,0,0.5,1],"format":".1f","title":"X"}},
   "y":{"field":"y","type":"quantitative","scale":{"domain":[0.104,1.044],"nice":false,"zero":false},"axis":null},
   "color":{"field":"k","type":"nominal","scale":{"domain":[0,1,2,3,4,5,6,7,8,9,10,11,12,13,14,15,16,17,18,19,20,21,22,23,24,25,26,27,28,29,30,31,32,33,34,35,36,37,38,39,40,41,42,43,44,45],"range":["#1f77b4","#ff7f0e","#2ca02c","#d62728","#9467bd","#8c564b","#e377c2","#7f7f7f","#bcbd22","#17becf"]},"legend":null}}},
 {"width":235.5,"height":157,"title":"(b): Scale 0:(11/200)",
  "encoding":{"x":{"field":"x","type":"quantitative","scale":{"domain":[-1.12,1.14],"nice":false,"zero":false},"axis":{"values":[-1,-0.5,0,0.5,1],"format":".1f","title":"X"}},
   "y":{"field":"y","type":"quantitative","scale":{"domain":[-0.06,1.059],"nice":false,"zero":false},"axis":{"values":[0,0.25,0.5,0.75,1],"format":".2f","title":"Y"}}},
  "layer":[
   {"data":{"name":"truth"},"mark":{"type":"line","color":"#2ca02c","strokeWidth":1.8,"strokeDash":[1.5,2.5],"interpolate":"monotone"}},
   {"data":{"name":"pb"},"mark":{"type":"circle","size":55,"color":"#1f77b4","opacity":1}},
   {"data":{"name":"rb"},"mark":{"type":"line","color":"#ff0000","strokeWidth":2,"interpolate":"monotone"}}
  ]},
 {"width":235.5,"height":157,"title":"(d): Scale 2:(16/200)",
  "encoding":{"x":{"field":"x","type":"quantitative","scale":{"domain":[-1.12,1.14],"nice":false,"zero":false},"axis":{"values":[-1,-0.5,0,0.5,1],"format":".1f","title":"X"}},
   "y":{"field":"y","type":"quantitative","scale":{"domain":[-0.06,1.059],"nice":false,"zero":false},"axis":null}},
  "layer":[
   {"data":{"name":"truth"},"mark":{"type":"line","color":"#2ca02c","strokeWidth":1.8,"strokeDash":[1.5,2.5],"interpolate":"monotone"}},
   {"data":{"name":"pd"},"mark":{"type":"circle","size":55,"color":"#1f77b4","opacity":1}},
   {"data":{"name":"rd"},"mark":{"type":"line","color":"#ff0000","strokeWidth":2,"interpolate":"monotone"}}
  ]},
 {"width":235.5,"height":157,"title":"(f): Scale 4:(26/200)",
  "encoding":{"x":{"field":"x","type":"quantitative","scale":{"domain":[-1.12,1.14],"nice":false,"zero":false},"axis":{"values":[-1,-0.5,0,0.5,1],"format":".1f","title":"X"}},
   "y":{"field":"y","type":"quantitative","scale":{"domain":[-0.06,1.059],"nice":false,"zero":false},"axis":null}},
  "layer":[
   {"data":{"name":"truth"},"mark":{"type":"line","color":"#2ca02c","strokeWidth":1.8,"strokeDash":[1.5,2.5],"interpolate":"monotone"}},
   {"data":{"name":"pf"},"mark":{"type":"circle","size":55,"color":"#1f77b4","opacity":1}},
   {"data":{"name":"rf"},"mark":{"type":"line","color":"#ff0000","strokeWidth":2,"interpolate":"monotone"}}
  ]},
 {"width":235.5,"height":157,"title":"(h): Scale 6:(46/200)",
  "encoding":{"x":{"field":"x","type":"quantitative","scale":{"domain":[-1.12,1.14],"nice":false,"zero":false},"axis":{"values":[-1,-0.5,0,0.5,1],"format":".1f","title":"X"}},
   "y":{"field":"y","type":"quantitative","scale":{"domain":[-0.06,1.059],"nice":false,"zero":false},"axis":null}},
  "layer":[
   {"data":{"name":"truth"},"mark":{"type":"line","color":"#2ca02c","strokeWidth":1.8,"strokeDash":[1.5,2.5],"interpolate":"monotone"}},
   {"data":{"name":"ph"},"mark":{"type":"circle","size":55,"color":"#1f77b4","opacity":1}},
   {"data":{"name":"truth"},"mark":{"type":"line","color":"#ff0000","strokeWidth":2,"interpolate":"monotone"}}
  ]}
]
}
